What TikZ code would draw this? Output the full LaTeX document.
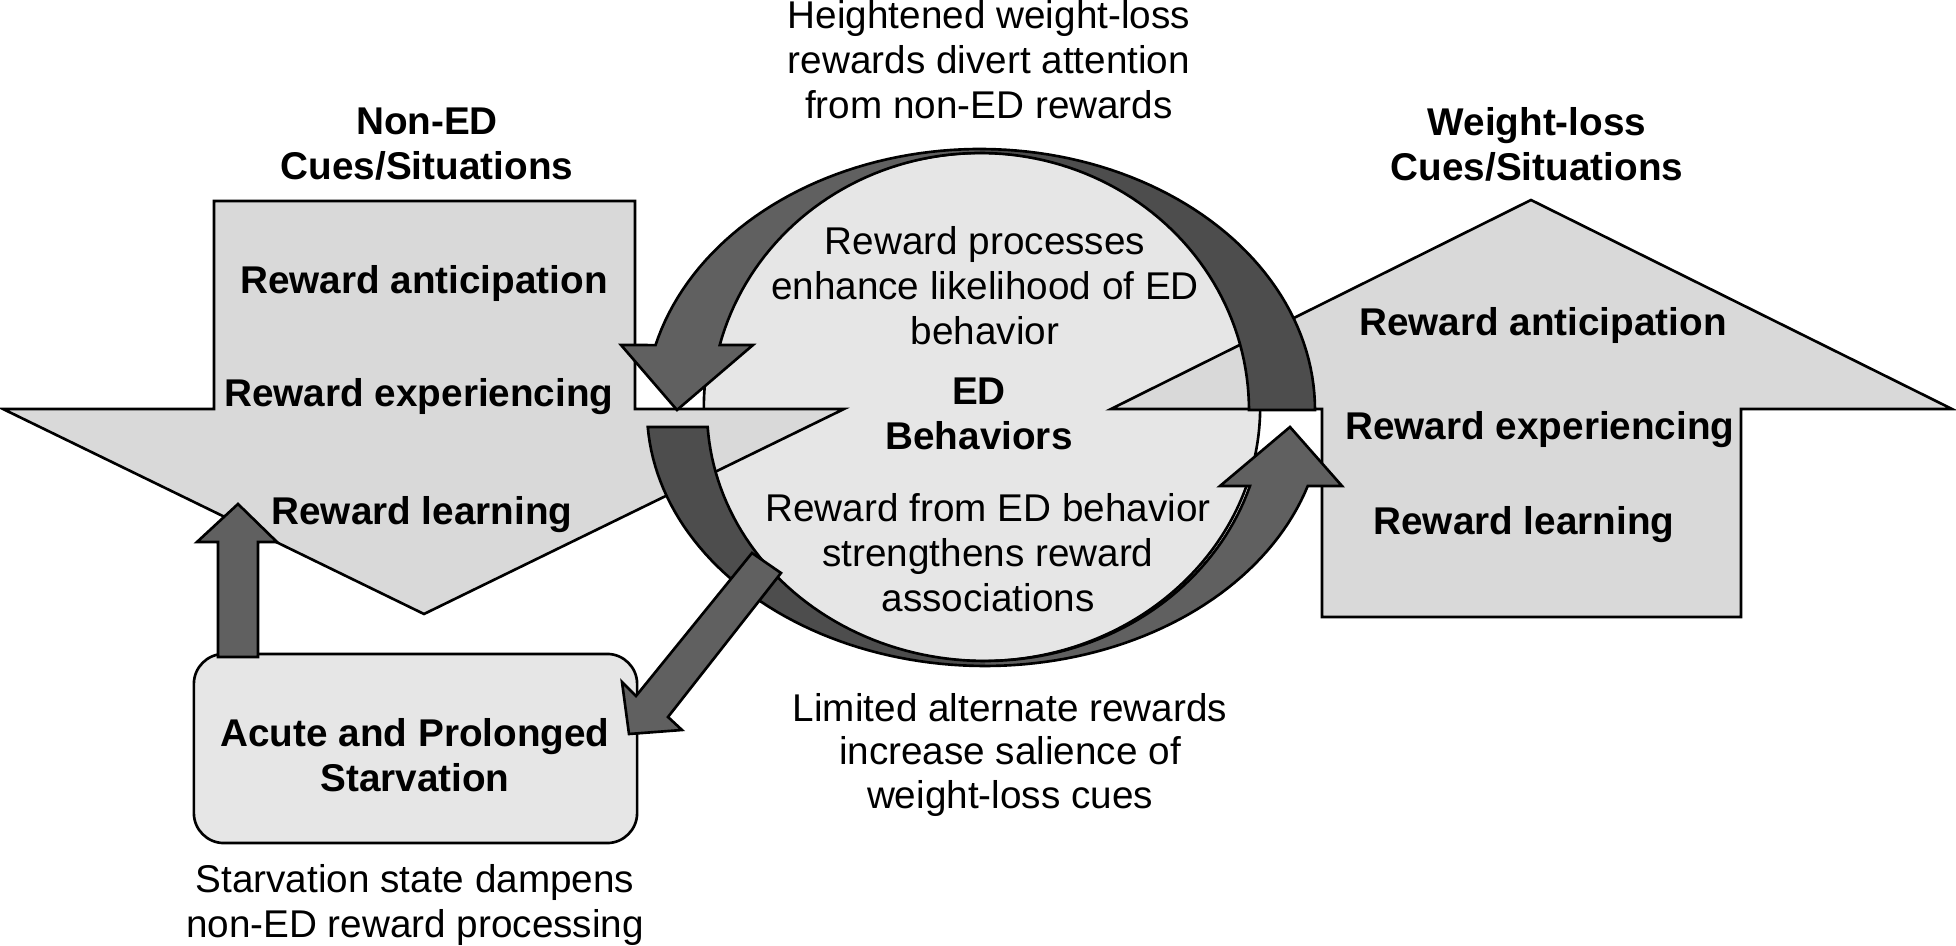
\documentclass[tikz,border=0pt]{standalone}
\usepackage{fontspec}
\setmainfont{Liberation Sans}
\definecolor{lightarrow}{HTML}{D9D9D9}
\definecolor{circfill}{HTML}{E6E6E6}
\definecolor{darkband}{HTML}{4D4D4D}
\definecolor{midband}{HTML}{606060}
\begin{document}
\begin{tikzpicture}[x=0.01cm,y=-0.01cm, line width=0.75pt, line join=miter,
  rt/.style={font=\fontsize{11}{12.8}\selectfont, align=center, inner sep=0pt, text=black},
  bt/.style={font=\fontsize{11}{12.8}\selectfont\bfseries, align=center, inner sep=0pt, text=black},
  lightshape/.style={draw=black, fill=lightarrow},
  darkshape/.style={draw=black, fill=midband}]
\useasboundingbox (0,0) rectangle (1956,946);

% ED behaviours circle
\draw[fill=circfill] (982,407) ellipse [x radius=2.78cm, y radius=2.54cm];

% large block arrows
\draw[lightshape] (214,201) -- (635,201) -- (635,409) -- (844,409) -- (424,614) -- (3,409) -- (214,409) -- cycle;
\draw[lightshape] (1322,617) -- (1741,617) -- (1741,409) -- (1952,409) -- (1531,200) -- (1111,409) -- (1322,409) -- cycle;

% top curved arrow
\def\TopArrowPath{plot[domain=0:165.6,samples=90] ({980+335*cos(\x)},{410-261*sin(\x)}) -- (621,345) -- (677,410) -- (753,345) -- plot[domain=165.35:0,samples=90] ({980+269*cos(\x)},{410-257*sin(\x)}) -- cycle}
\fill[midband] \TopArrowPath;
\begin{scope}
  \clip (980,0) rectangle (1956,946);
  \fill[darkband] \TopArrowPath;
\end{scope}
\draw \TopArrowPath;

% bottom curved arrow
\def\BotArrowPath{plot[domain=183.8:342.73,samples=90] ({985+338*cos(\x)},{410-256*sin(\x)}) -- (1342,486) -- (1290,427) -- (1220,486) -- plot[domain=342.38:183.88,samples=90] ({985+278*cos(\x)},{410-251*sin(\x)}) -- cycle}
\fill[midband] \BotArrowPath;
\begin{scope}
  \clip (0,0) rectangle (985,946);
  \fill[darkband] \BotArrowPath;
\end{scope}
\draw \BotArrowPath;

% starvation box
\node[draw, fill=circfill, rounded corners=0.3cm, minimum width=4.43cm, minimum height=1.89cm, inner sep=0pt] (starv) at (415.5,748.5) {};
\node[bt] (acute) at (415,755) {Acute and Prolonged\\Starvation};

% diagonal arrow to starvation box
\draw[darkshape] (752,553) -- (636,696) -- (622,682) -- (629,734) -- (682,730) -- (668,717) -- (781,573) -- cycle;
% up arrow from starvation box
\draw[darkshape] (218,657) -- (218,542) -- (197,542) -- (238,504) -- (277,542) -- (258,542) -- (258,657) -- cycle;

% texts
\node[bt] (nonED) at (427,144) {Non-ED\\Cues/Situations};
\node[bt] (wl) at (1537,144) {Weight-loss\\Cues/Situations};
\node[bt] (lant) at (424,284) {Reward anticipation};
\node[bt] (lexp) at (419,397) {Reward experiencing};
\node[bt] (llrn) at (422,515) {Reward learning};
\node[bt] (rant) at (1543,326) {Reward anticipation};
\node[bt] (rexp) at (1540,430) {Reward experiencing};
\node[bt] (rlrn) at (1524,525) {Reward learning};
\node[rt] (top) at (989,60) {Heightened weight-loss\\rewards divert attention\\from non-ED rewards};
\node[rt] (rp) at (985,286) {Reward processes\\enhance likelihood of ED\\behavior};
\node[bt] (ed) at (979,414) {ED\\Behaviors};
\node[rt] (rf) at (988,553) {Reward from ED behavior\\strengthens reward\\associations};
\node[rt, font=\fontsize{11}{12.4}\selectfont] (lim) at (1010,755) {Limited alternate rewards\\increase salience of\\weight-loss cues};
\node[rt] (sd) at (415,905) {Starvation state dampens\\non-ED reward processing};
\end{tikzpicture}
\end{document}
